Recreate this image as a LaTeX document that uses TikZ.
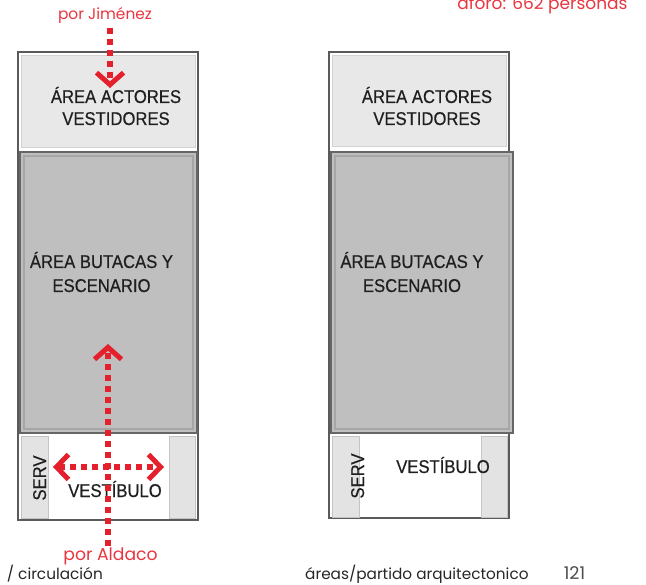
\documentclass[tikz,border=0pt]{standalone}
\usepackage{fontspec}
\usetikzlibrary{arrows.meta}
\newfontfamily\arialn[FakeStretch=0.9, FakeBold=0.5]{Liberation Sans}
\newfontfamily\geo{Poppins}
\definecolor{redline}{HTML}{E3202C}
\definecolor{redtxt}{HTML}{E8353F}
\definecolor{framec}{HTML}{5A5A5A}
\definecolor{topfill}{HTML}{E8E8E8}
\definecolor{topedge}{HTML}{D2D2D2}
\definecolor{darkfill}{HTML}{BFBFBF}
\definecolor{darkedge}{HTML}{666666}
\definecolor{darkinner}{HTML}{A6A6A6}
\definecolor{stripfill}{HTML}{E3E3E3}
\definecolor{stripedge}{HTML}{C4C4C4}
\tikzset{
  lbl/.style={font=\arialn\fontsize{18.5}{22}\selectfont, text=black!88, inner sep=0pt, anchor=base},
  redlbl/.style={font=\geo\fontsize{16}{19}\selectfont, text=redtxt, inner sep=0pt, anchor=base},
  foot/.style={font=\geo\fontsize{15.3}{19}\selectfont, text=black!85, inner sep=0pt, anchor=base},
  frame/.style={draw=framec, line width=1.3pt},
  topbox/.style={fill=topfill, draw=topedge, line width=1pt},
  darkbox/.style={fill=darkfill, draw=darkedge, line width=2.8pt},
  darkin/.style={draw=darkinner, line width=1.4pt},
  strip/.style={fill=stripfill, draw=stripedge, line width=0.8pt},
  barb/.style={},
  redarrow/.style={draw=redline, line width=5.5pt, dash pattern=on 6pt off 5pt,
     -{Straight Barb[length=12pt, width=27pt, line width=5pt]}},
  redarrows/.style={draw=redline, line width=5.5pt, dash pattern=on 6pt off 5pt,
     {Straight Barb[length=12pt, width=25pt, line width=5pt]}-{Straight Barb[length=12pt, width=25pt, line width=5pt]}}
}
\begin{document}
\begin{tikzpicture}[x=1pt, y=-1pt]
\useasboundingbox (0,0) rectangle (646,585);
% ---------- left panel ----------
\draw[frame, fill=white] (18,52) rectangle (198,520);
\draw[topbox] (21,56) rectangle (195,148);
\draw[darkbox] (20,152) rectangle (197,433);
\draw[darkin] (24,156) rectangle (193,429);
\draw[strip] (21,436) rectangle (48,518);
\draw[strip] (169,436) rectangle (195,518);
\node[lbl] (la1) at (116,103) {ÁREA ACTORES};
\node[lbl] (la2) at (116,125) {VESTIDORES};
\node[lbl] (lb1) at (101.5,268) {ÁREA BUTACAS Y};
\node[lbl] (lb2) at (101.5,292) {ESCENARIO};
\node[lbl, rotate=90] (lserv) at (46,478) {SERV};
\node[lbl] (lvest) at (115,497) {VESTÍBULO};
% ---------- right panel ----------
\draw[frame, fill=white] (329,52) rectangle (509,518);
\draw[topbox] (332,56) rectangle (506,147);
\draw[darkbox] (331,152) rectangle (513,433);
\draw[darkin] (335,156) rectangle (509,429);
\draw[strip] (332,436) rectangle (359,517);
\draw[strip] (481,436) rectangle (507,517);
\node[lbl] (ra1) at (427,103) {ÁREA ACTORES};
\node[lbl] (ra2) at (427,125) {VESTIDORES};
\node[lbl] (rb1) at (412,268) {ÁREA BUTACAS Y};
\node[lbl] (rb2) at (412,292) {ESCENARIO};
\node[lbl, rotate=90] (rserv) at (364,476) {SERV};
\node[lbl] (rvest) at (443,473) {VESTÍBULO};
% ---------- red labels and arrows ----------
\node[redlbl, font=\geo\fontsize{15.4}{19}\selectfont] (jim) at (105,20) {por Jiménez};
\node[redlbl, font=\geo\fontsize{17.2}{19}\selectfont] (ald) at (110.5,561) {por Aldaco};
\node[redlbl, font=\geo\fontsize{17}{19}\selectfont] (aforo) at (542.5,10) {aforo: 662 personas};
\coordinate (jimstart) at (110,28);
\coordinate (jimtip) at (110,88);
\coordinate (aldstart) at (108,546);
\coordinate (aldtip) at (108,344);
\coordinate (hl) at (53,467);
\coordinate (hr) at (164,467);
\draw[redarrow] (jimstart) -- (jimtip);
\draw[redarrow] (aldstart) -- (aldtip);
\draw[redarrows] (hl) -- (hr);
% ---------- footer ----------
\node[foot, anchor=base east] (circ) at (103,579) {/ circulación};
\node[foot, anchor=base west] (areas) at (305,579) {áreas/partido arquitectonico};
\node[foot, anchor=base, text=black!70, font=\geo\fontsize{17.5}{19}\selectfont] (page) at (574.5,579) {121};
\end{tikzpicture}
\end{document}
